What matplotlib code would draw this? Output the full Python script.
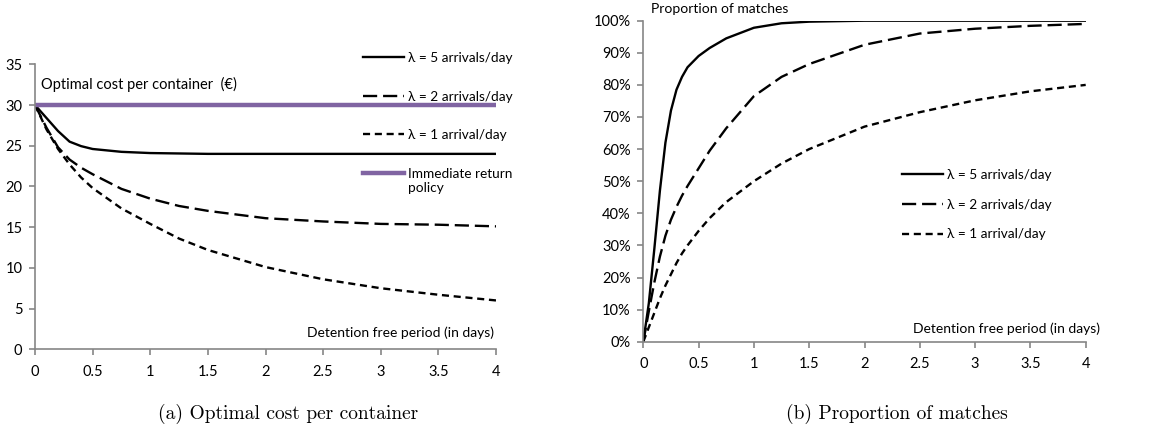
import matplotlib
matplotlib.use("Agg")
import matplotlib.pyplot as plt
from matplotlib.ticker import PercentFormatter

# panel (a): optimal cost per container
x_cost = [0, 0.1, 0.2, 0.3, 0.4, 0.5, 0.75, 1, 1.25, 1.5, 2, 2.5, 3, 3.5, 4]
cost_l5 = [30, 28.4, 26.8, 25.5, 24.95, 24.6, 24.25, 24.1, 24.05, 24.0, 24.0, 24.0, 24.0, 24.0, 24.0]
cost_l2 = [30, 27.2, 24.8, 23.3, 22.3, 21.5, 19.7, 18.5, 17.6, 17.0, 16.1, 15.7, 15.4, 15.3, 15.1]
cost_l1 = [30, 27.0, 24.6, 22.7, 21.1, 19.8, 17.3, 15.4, 13.6, 12.2, 10.1, 8.6, 7.5, 6.7, 6.0]
immediate_cost = [30, 30]
x_immediate = [0, 4]

# panel (b): proportion of matches (%)
x_match = [0, 0.05, 0.1, 0.15, 0.2, 0.25, 0.3, 0.35, 0.4, 0.5, 0.6, 0.75, 1, 1.25, 1.5, 2, 2.5, 3, 3.5, 4]
match_l5 = [0, 12, 29, 47, 62, 72, 78.5, 82.5, 85.5, 89, 91.5, 94.5, 97.8, 99.2, 99.7, 100, 100, 100, 100, 100]
match_l2 = [0, 9.5, 18.5, 26.5, 33, 38, 42, 45.5, 48.5, 54, 59.5, 66.5, 76.5, 82.5, 86.5, 92.5, 96, 97.5, 98.4, 99]
match_l1 = [0, 4.5, 9, 13.5, 17.5, 21, 24.5, 27.5, 30, 34.5, 38.5, 43.5, 50, 55.5, 60, 67, 71.5, 75.2, 78, 80]

labels = ["λ = 5 arrivals/day", "λ = 2 arrivals/day", "λ = 1 arrival/day"]
immediate_label = ["Immediate return", "policy"]
x_ticks = [0, 0.5, 1, 1.5, 2, 2.5, 3, 3.5, 4]
x_ticklabels = ['0', '0.5', '1', '1.5', '2', '2.5', '3', '3.5', '4']

plt.rcParams['font.family'] = ['Lato', 'DejaVu Sans']
plt.rcParams['font.size'] = 10

W, H = 1170, 432
fig = plt.figure(figsize=(W / 100, H / 100), dpi=100)

axis_gray = '#868686'
long_dash = (0, (6, 2.5))
short_dash = (0, (3, 2))


def style_axes(ax):
    for s in ['top', 'right']:
        ax.spines[s].set_visible(False)
    for s in ['left', 'bottom']:
        ax.spines[s].set_color(axis_gray)
        ax.spines[s].set_linewidth(1.2)
    ax.tick_params(axis='both', colors=axis_gray, labelcolor='black', length=4, width=1.2,
                   direction='out', labelsize=10.5)
    ax.tick_params(axis='x', pad=7)
    ax.tick_params(axis='y', pad=5)


# ---- left panel ----
ax1 = fig.add_axes([35 / W, 1 - 349.3 / H, (496 - 35) / W, (349.3 - 64.3) / H])
h5, = ax1.plot(x_cost, cost_l5, color='black', lw=1.7)
h2, = ax1.plot(x_cost, cost_l2, color='black', lw=1.7, linestyle=long_dash)
h1, = ax1.plot(x_cost, cost_l1, color='black', lw=1.7, linestyle=short_dash)
hi, = ax1.plot(x_immediate, immediate_cost, color='#8064A2', lw=3.2)
ax1.set_xlim(0, 4)
ax1.set_ylim(0, 35)
ax1.set_xticks(x_ticks)
ax1.set_xticklabels(x_ticklabels)
ax1.set_yticks(range(0, 36, 5))
style_axes(ax1)
ax1.text(0.012, 0.93, "Optimal cost per container  (€)", transform=ax1.transAxes,
         ha='left', va='center', fontsize=10.5)
ax1.text(0.995, 0.057, "Detention free period (in days)", transform=ax1.transAxes,
         ha='right', va='center', fontsize=10)
leg1 = ax1.legend([h5, h2, h1, hi], labels + [immediate_label[0]],
                  loc='upper left', bbox_to_anchor=(363 / W, 1 - 52 / H),
                  bbox_transform=fig.transFigure, frameon=False, fontsize=9.8,
                  handlelength=3.0, handletextpad=0.3, labelspacing=1.95,
                  borderpad=0, borderaxespad=0)

# second line of the last legend label, placed under its first line
fig.canvas.draw()
bb = leg1.get_texts()[-1].get_window_extent()
fig.text(bb.x0 / W, (bb.y0 - 2) / H, immediate_label[1], ha='left', va='top', fontsize=9.8)

# ---- right panel ----
ax2 = fig.add_axes([643.3 / W, 1 - 341.7 / H, (1085.7 - 643.3) / W, (341.7 - 20.7) / H])
g5, = ax2.plot(x_match, match_l5, color='black', lw=1.7)
g2, = ax2.plot(x_match, match_l2, color='black', lw=1.7, linestyle=long_dash)
g1, = ax2.plot(x_match, match_l1, color='black', lw=1.7, linestyle=short_dash)
ax2.set_xlim(0, 4)
ax2.set_ylim(0, 100)
ax2.set_xticks(x_ticks)
ax2.set_xticklabels(x_ticklabels)
ax2.set_yticks(range(0, 101, 10))
ax2.yaxis.set_major_formatter(PercentFormatter(decimals=0))
style_axes(ax2)
fig.text(651 / W, 1 - 9 / H, "Proportion of matches", ha='left', va='center', fontsize=10)
fig.text(1100 / W, 1 - 329 / H, "Detention free period (in days)", ha='right', va='center', fontsize=10)
leg2 = ax2.legend([g5, g2, g1], labels,
                  loc='upper left', bbox_to_anchor=(902 / W, 1 - 169 / H),
                  bbox_transform=fig.transFigure, frameon=False, fontsize=9.8,
                  handlelength=3.0, handletextpad=0.3, labelspacing=1.3,
                  borderpad=0, borderaxespad=0)

# captions
fig.text(288 / W, 1 - 414 / H, "(a) Optimal cost per container", ha='center', va='center',
         family='cmr10', fontsize=14)
fig.text(897 / W, 1 - 414 / H, "(b) Proportion of matches", ha='center', va='center',
         family='cmr10', fontsize=14)

fig.savefig('out.png', dpi=100)
